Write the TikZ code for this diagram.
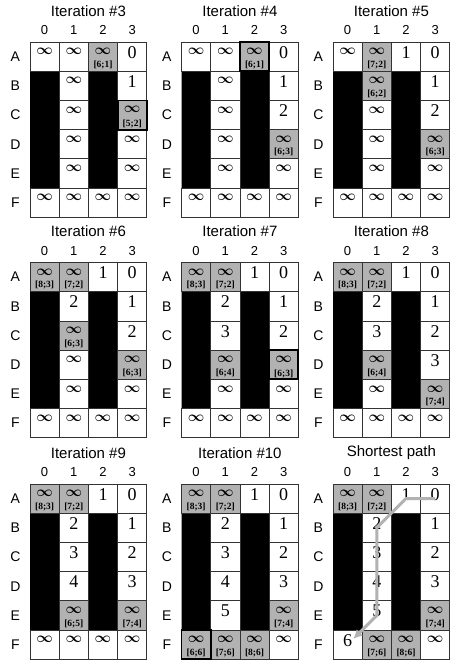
\documentclass[tikz,border=0pt]{standalone}
\usepackage{fontspec}
\setsansfont{Liberation Sans}
\newfontfamily\numfont{Liberation Serif}
\usetikzlibrary{arrows.meta,positioning}

\tikzset{
  cell/.style={draw=black!80, line width=.7pt, fill=white, minimum width=29.2pt, minimum height=29.2pt, inner sep=0pt},
  infsign/.style={anchor=north, inner sep=0pt, yshift=-6.5pt, font=\boldmath\fontsize{14}{14}\selectfont},
  bignum/.style={anchor=north, inner sep=0pt, yshift=-4.5pt, font=\numfont\fontsize{18}{18}\selectfont},
  costlbl/.style={anchor=south, inner sep=0pt, yshift=2.5pt, font=\numfont\bfseries\fontsize{9.5}{9.5}\selectfont},
  inf/.style={cell, label={[infsign]north:$\infty$}},
  num/.style={cell, label={[bignum]north:#1}},
  opn/.style={cell, fill=gray!60, label={[infsign]north:$\infty$}, label={[costlbl]south:{[#1]}}},
  cur/.style={opn=#1, draw=black, line width=1.8pt},
  gridtitle/.style={font=\sffamily\fontsize{15}{15}\selectfont},
  collbl/.style={font=\sffamily\fontsize{13}{13}\selectfont},
  rowlbl/.style={font=\sffamily\fontsize{14}{14}\selectfont},
  wall/.style={fill=black},
  route/.style={draw=gray!60, line width=3pt, -{Latex[length=9pt,width=9pt]}}
}

% title, axes and the two walls of one grid
\newcommand\gridframe[2]{%
  \node[gridtitle] (#1-t) at (2,-1.07) {#2};
  \foreach \c in {0,...,3} \node[collbl] (#1-c\c) at (\c+.5,-.4) {\c};
  \foreach \r/\l in {0/A,1/B,2/C,3/D,4/E,5/F} \node[rowlbl] (#1-r\r) at (-.5,\r+.5) {\l};
  \fill[wall] (0,1) rectangle (1,5) (2,1) rectangle (3,5);
}
% cells: row/col/kind/value
\newcommand\cells[2]{\foreach \r/\c/\k/\v in {#2} \node[\k=\v] (#1-\r\c) at (\c+.5,\r+.5) {};}

\begin{document}
\begin{tikzpicture}
\useasboundingbox (0,0) rectangle (471pt,-669pt);

% first row
\begin{scope}[shift={(30pt,-42pt)}, x=29.2pt, y=-29.2pt]
\gridframe{it3}{Iteration \#3}
\cells{it3}{0/0/inf/-, 0/1/inf/-, 0/2/opn/6;1, 0/3/num/0,
  1/1/inf/-, 1/3/num/1, 2/1/inf/-, 3/1/inf/-, 3/3/inf/-, 4/1/inf/-, 4/3/inf/-,
  5/0/inf/-, 5/1/inf/-, 5/2/inf/-, 5/3/inf/-, 2/3/cur/5;2}
\end{scope}

\begin{scope}[shift={(181.5pt,-42pt)}, x=29.2pt, y=-29.2pt]
\gridframe{it4}{Iteration \#4}
\cells{it4}{0/0/inf/-, 0/1/inf/-, 0/3/num/0,
  1/1/inf/-, 1/3/num/1, 2/1/inf/-, 2/3/num/2, 3/1/inf/-, 3/3/opn/6;3, 4/1/inf/-, 4/3/inf/-,
  5/0/inf/-, 5/1/inf/-, 5/2/inf/-, 5/3/inf/-, 0/2/cur/6;1}
\end{scope}

\begin{scope}[shift={(333pt,-42pt)}, x=29.2pt, y=-29.2pt]
\gridframe{it5}{Iteration \#5}
\cells{it5}{0/0/inf/-, 0/1/opn/7;2, 0/2/num/1, 0/3/num/0,
  1/1/opn/6;2, 1/3/num/1, 2/1/inf/-, 2/3/num/2, 3/1/inf/-, 3/3/opn/6;3, 4/1/inf/-, 4/3/inf/-,
  5/0/inf/-, 5/1/inf/-, 5/2/inf/-, 5/3/inf/-}
\end{scope}

% second row
\begin{scope}[shift={(30pt,-262.5pt)}, x=29.2pt, y=-29.2pt]
\gridframe{it6}{Iteration \#6}
\cells{it6}{0/0/opn/8;3, 0/1/opn/7;2, 0/2/num/1, 0/3/num/0,
  1/1/num/2, 1/3/num/1, 2/1/opn/6;3, 2/3/num/2, 3/1/inf/-, 3/3/opn/6;3, 4/1/inf/-, 4/3/inf/-,
  5/0/inf/-, 5/1/inf/-, 5/2/inf/-, 5/3/inf/-}
\end{scope}

\begin{scope}[shift={(181.5pt,-262.5pt)}, x=29.2pt, y=-29.2pt]
\gridframe{it7}{Iteration \#7}
\cells{it7}{0/0/opn/8;3, 0/1/opn/7;2, 0/2/num/1, 0/3/num/0,
  1/1/num/2, 1/3/num/1, 2/1/num/3, 2/3/num/2, 3/1/opn/6;4, 4/1/inf/-, 4/3/inf/-,
  5/0/inf/-, 5/1/inf/-, 5/2/inf/-, 5/3/inf/-, 3/3/cur/6;3}
\end{scope}

\begin{scope}[shift={(333pt,-262.5pt)}, x=29.2pt, y=-29.2pt]
\gridframe{it8}{Iteration \#8}
\cells{it8}{0/0/opn/8;3, 0/1/opn/7;2, 0/2/num/1, 0/3/num/0,
  1/1/num/2, 1/3/num/1, 2/1/num/3, 2/3/num/2, 3/1/opn/6;4, 3/3/num/3, 4/1/inf/-, 4/3/opn/7;4,
  5/0/inf/-, 5/1/inf/-, 5/2/inf/-, 5/3/inf/-}
\end{scope}

% third row
\begin{scope}[shift={(30pt,-484pt)}, x=29.2pt, y=-29.2pt]
\gridframe{it9}{Iteration \#9}
\cells{it9}{0/0/opn/8;3, 0/1/opn/7;2, 0/2/num/1, 0/3/num/0,
  1/1/num/2, 1/3/num/1, 2/1/num/3, 2/3/num/2, 3/1/num/4, 3/3/num/3, 4/1/opn/6;5, 4/3/opn/7;4,
  5/0/inf/-, 5/1/inf/-, 5/2/inf/-, 5/3/inf/-}
\end{scope}

\begin{scope}[shift={(181.5pt,-484pt)}, x=29.2pt, y=-29.2pt]
\gridframe{it10}{Iteration \#10}
\cells{it10}{0/0/opn/8;3, 0/1/opn/7;2, 0/2/num/1, 0/3/num/0,
  1/1/num/2, 1/3/num/1, 2/1/num/3, 2/3/num/2, 3/1/num/4, 3/3/num/3, 4/1/num/5, 4/3/opn/7;4,
  5/1/opn/7;6, 5/2/opn/8;6, 5/3/inf/-, 5/0/cur/6;6}
\end{scope}

\begin{scope}[shift={(333pt,-484pt)}, x=29.2pt, y=-29.2pt]
\gridframe{sp}{Shortest path}
\cells{sp}{0/0/opn/8;3, 0/1/opn/7;2, 0/2/num/1, 0/3/num/0,
  1/1/num/2, 1/3/num/1, 2/1/num/3, 2/3/num/2, 3/1/num/4, 3/3/num/3, 4/1/num/5, 4/3/opn/7;4,
  5/0/num/6, 5/1/opn/7;6, 5/2/opn/8;6, 5/3/inf/-}
\draw[route, shorten >=8pt] (sp-03.center) -- (sp-02.center) -- (sp-11.center) -- (sp-41.center) -- (sp-50.center);
\end{scope}
\end{tikzpicture}
\end{document}
